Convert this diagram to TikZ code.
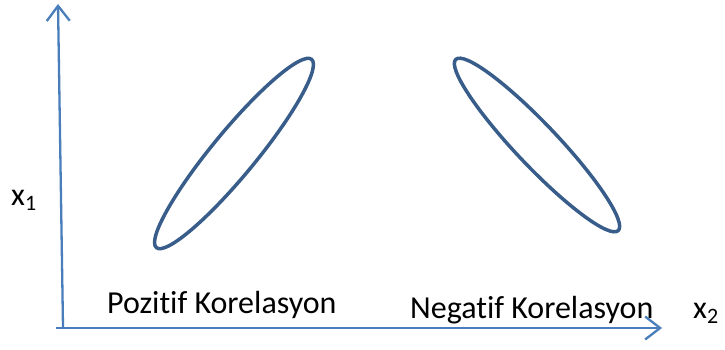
\documentclass[tikz,border=0pt]{standalone}
\usepackage{fontspec}
\setmainfont[Ligatures=NoCommon]{Carlito}
\usetikzlibrary{arrows.meta}
\definecolor{axisblue}{HTML}{4A7EBB}
\definecolor{ellblue}{HTML}{385D8A}
\tikzset{
  axisline/.style={draw=axisblue, line width=2.3pt, -{Straight Barb[length=15pt,width=23pt,line width=2.3pt]}},
  ellline/.style={draw=ellblue, line width=3.5pt},
  lbl/.style={anchor=base west, inner sep=0pt, font=\fontsize{32}{38}\selectfont},
}
\newcommand{\subdig}[1]{\raisebox{-5.5pt}{\fontsize{22}{26}\selectfont #1}}
\begin{document}
\begin{tikzpicture}[x=1pt,y=-1pt]
\useasboundingbox (0,0) rectangle (725,350);
\coordinate (yfoot) at (63,327);
\coordinate (ytip) at (58,4);
\coordinate (xfoot) at (56,328);
\coordinate (xtip) at (662,328);
\draw[axisline] (yfoot) -- (ytip);
\draw[axisline] (xfoot) -- (xtip);
\coordinate (c1) at (234,153.5);
\coordinate (c2) at (537,145);
\draw[ellline, rotate around={50.5:(c1)}] (c1) ellipse [x radius=122pt, y radius=22pt];
\draw[ellline, rotate around={-46.5:(c2)}] (c2) ellipse [x radius=118pt, y radius=21pt];
\node[lbl] (x1) at (11,205) {x\subdig{1}};
\node[lbl] (x2) at (693,318) {x\subdig{2}};
\node[lbl] (pos) at (107,313) {Pozitif Korelasyon};
\node[lbl] (neg) at (410,318) {Negatif Korelasyon};
\end{tikzpicture}
\end{document}
